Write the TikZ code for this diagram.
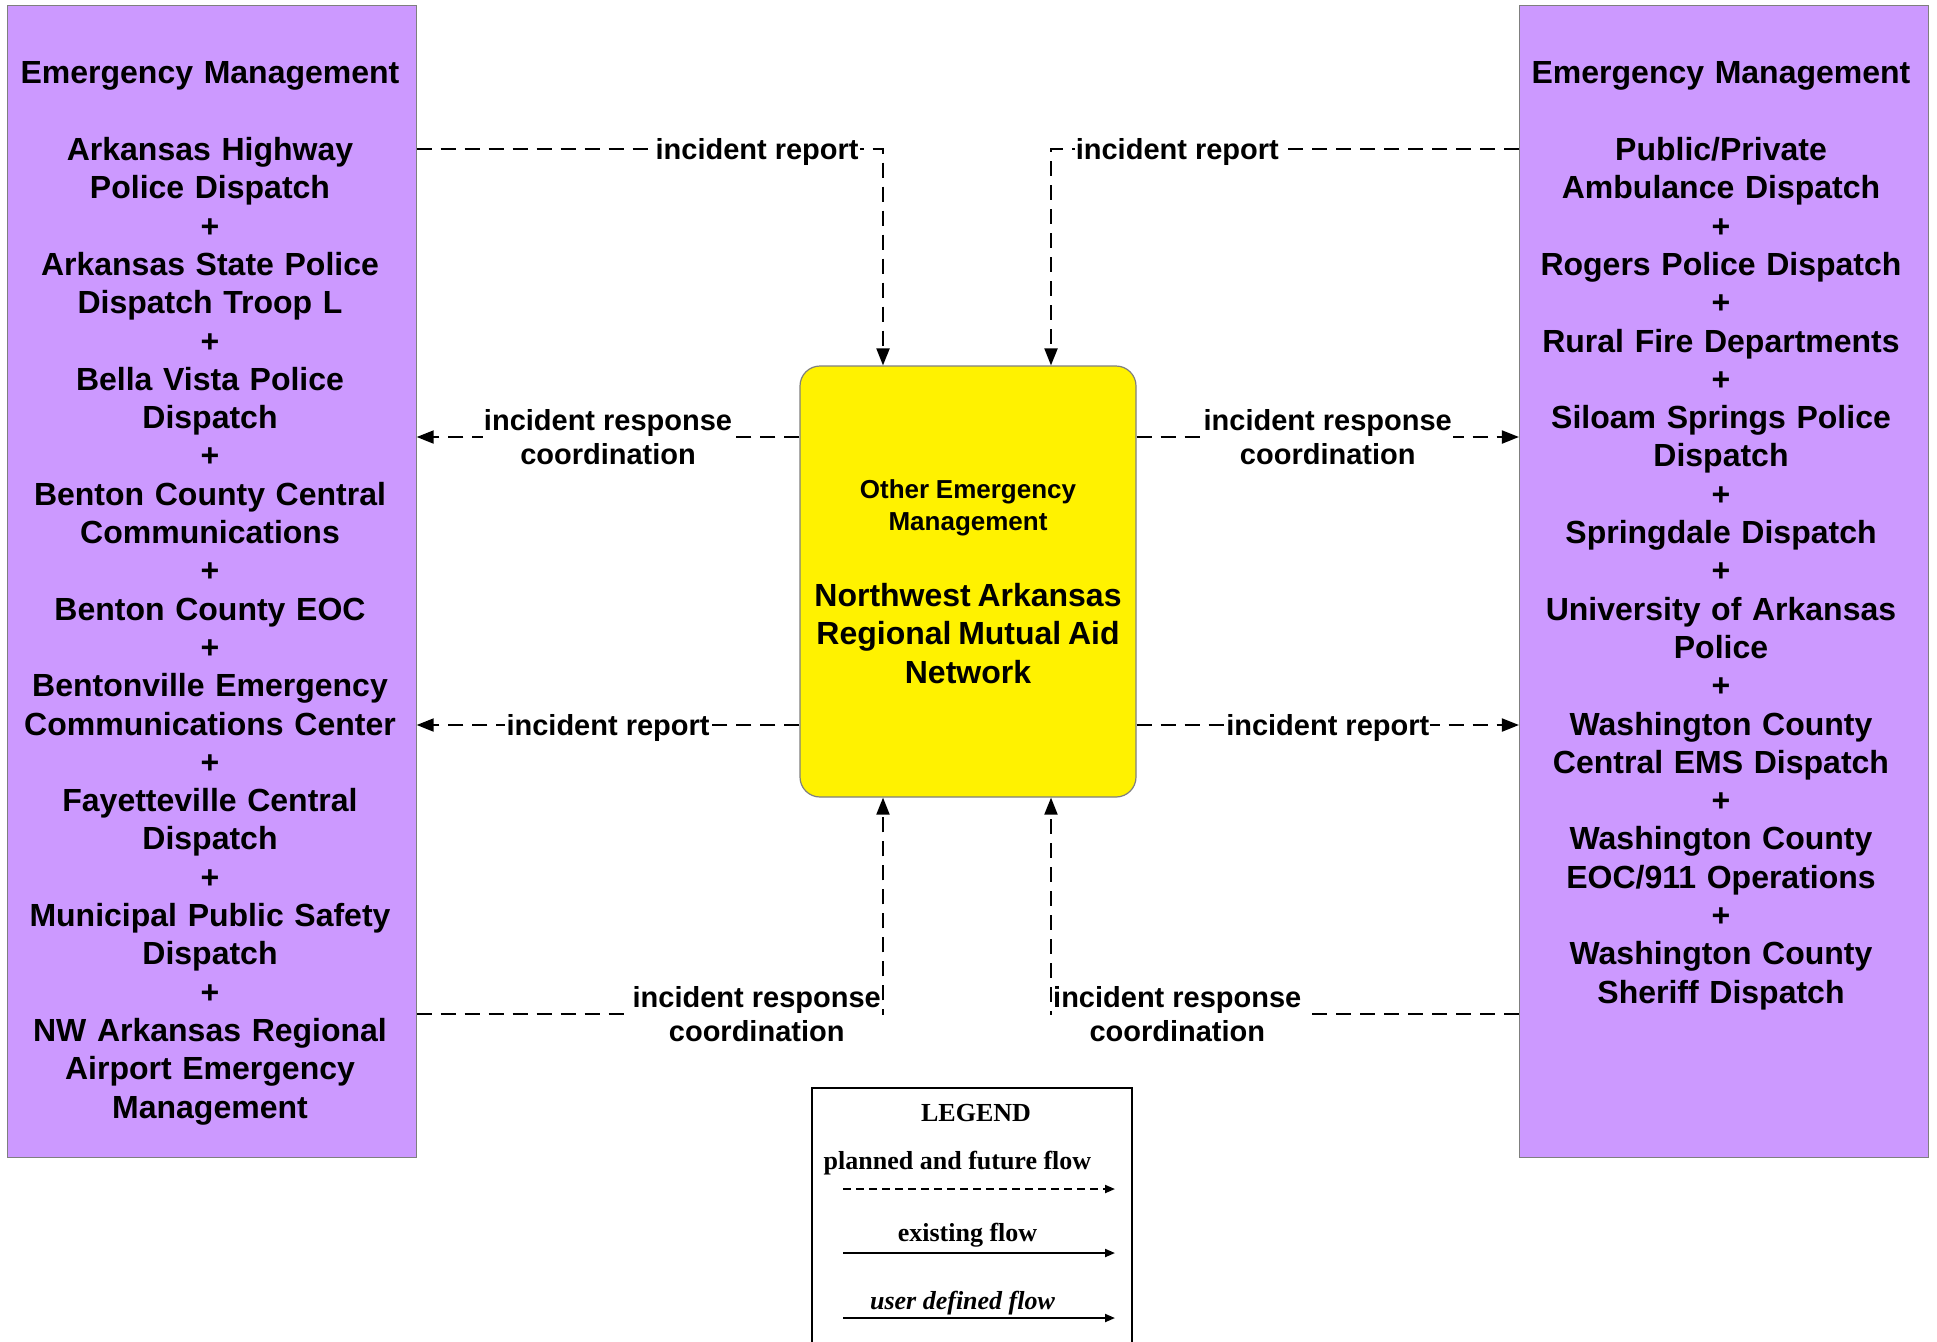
\documentclass[tikz,border=0pt]{standalone}
\usepackage{fontspec}
\setmainfont{Liberation Sans}
\newfontfamily\legendfont{Liberation Serif}
\usetikzlibrary{arrows.meta}
\definecolor{boxpurple}{HTML}{CC99FF}
\definecolor{boxedge}{HTML}{7F7F7F}

\begin{document}
\begin{tikzpicture}[x=0.5pt, y=-0.5pt, >={Triangle[length=8.5pt,width=6.5pt]},
  sysbox/.style={draw=boxedge, line width=0.6pt, fill=boxpurple, minimum width=204.4pt, minimum height=575.9pt, inner sep=0pt},
  systext/.style={anchor=north, inner sep=0pt, text width=204pt, align=center, font=\bfseries\fontsize{16}{19.15}\selectfont},
  flow/.style={line width=1pt, dash pattern=on 7.5pt off 4.5pt},
  lbl/.style={fill=white, inner sep=0.6pt, align=center, font=\bfseries\fontsize{14.5}{17}\selectfont},
  lblone/.style={lbl, yshift=-1.3pt},
  legtext/.style={inner sep=0pt, font=\legendfont\bfseries\fontsize{13}{15}\selectfont},
  legflow/.style={line width=1pt, -{Triangle[length=5pt,width=4pt]}}]
\useasboundingbox (0,0) rectangle (1937,1341);

\node[sysbox](L) at (211.7,581.6){};
\node[sysbox](R) at (1723.9,581.6){};
\node[systext](L1) at (210,61.5){Emergency Management\\[19.15pt]
Arkansas Highway\\Police Dispatch\\+\\Arkansas State Police\\Dispatch Troop L\\+\\
Bella Vista Police\\Dispatch\\+\\Benton County Central\\Communications\\+\\
Benton County EOC\\+\\Bentonville Emergency\\Communications Center\\+\\
Fayetteville Central\\Dispatch\\+\\Municipal Public Safety\\Dispatch\\+\\
NW Arkansas Regional\\Airport Emergency\\Management};
\node[systext](R1) at (1721,61.5){Emergency Management\\[19.15pt]
Public/Private\\Ambulance Dispatch\\+\\Rogers Police Dispatch\\+\\
Rural Fire Departments\\+\\Siloam Springs Police\\Dispatch\\+\\
Springdale Dispatch\\+\\University of Arkansas\\Police\\+\\
Washington County\\Central EMS Dispatch\\+\\Washington County\\EOC/911 Operations\\+\\
Washington County\\Sheriff Dispatch};

\node[draw=boxedge, line width=0.6pt, fill=yellow, rounded corners=10pt, minimum width=168pt, minimum height=215.5pt, text width=160pt, align=center, font=\bfseries](N) at (968,581.5){{\fontsize{13}{16}\selectfont Other Emergency\\Management\par}\vspace{19pt}{\fontsize{16}{19.15}\selectfont Northwest Arkansas\\Regional Mutual Aid\\Network\par}};

\coordinate (rA) at (0,149);
\coordinate (rB) at (0,437);
\coordinate (rC) at (0,725);
\coordinate (rD) at (0,1014);
\coordinate (cL) at (883,0);
\coordinate (cR) at (1051,0);

\draw[flow,->](L.east |- rA) -| node[lblone,pos=.365]{incident report} (N.north -| cL);
\draw[flow,->](R.west |- rA) -| node[lblone,pos=.365]{incident report} (N.north -| cR);
\draw[flow,->](N.west |- rB) -- node[lbl]{incident response\\coordination} (L.east |- rB);
\draw[flow,->](N.east |- rB) -- node[lbl]{incident response\\coordination} (R.west |- rB);
\draw[flow,->](N.west |- rC) -- node[lblone]{incident report} (L.east |- rC);
\draw[flow,->](N.east |- rC) -- node[lblone]{incident report} (R.west |- rC);
\draw[flow,->](L.east |- rD) -| node[lbl,pos=.5,anchor=east]{incident response\\coordination} (N.south -| cL);
\draw[flow,->](R.west |- rD) -| node[lbl,pos=.5,anchor=west]{incident response\\coordination} (N.south -| cR);

% legend
\node[draw, line width=1pt, minimum width=160pt, minimum height=146pt](LG) at (972,1234){};
\node[legtext](LG0) at (976,1113){LEGEND};
\node[legtext](LG1) at (957.5,1163){planned and future flow};
\draw[legflow, dash pattern=on 4pt off 2.5pt](843,1189)--(1115,1189);
\node[legtext](LG2) at (967.5,1235){existing flow};
\draw[legflow](843,1253)--(1115,1253);
\node[legtext, font=\legendfont\bfseries\itshape\fontsize{13}{15}\selectfont](LG3) at (962.5,1303){user defined flow};
\draw[legflow](843,1318)--(1115,1318);

\end{tikzpicture}
\end{document}
